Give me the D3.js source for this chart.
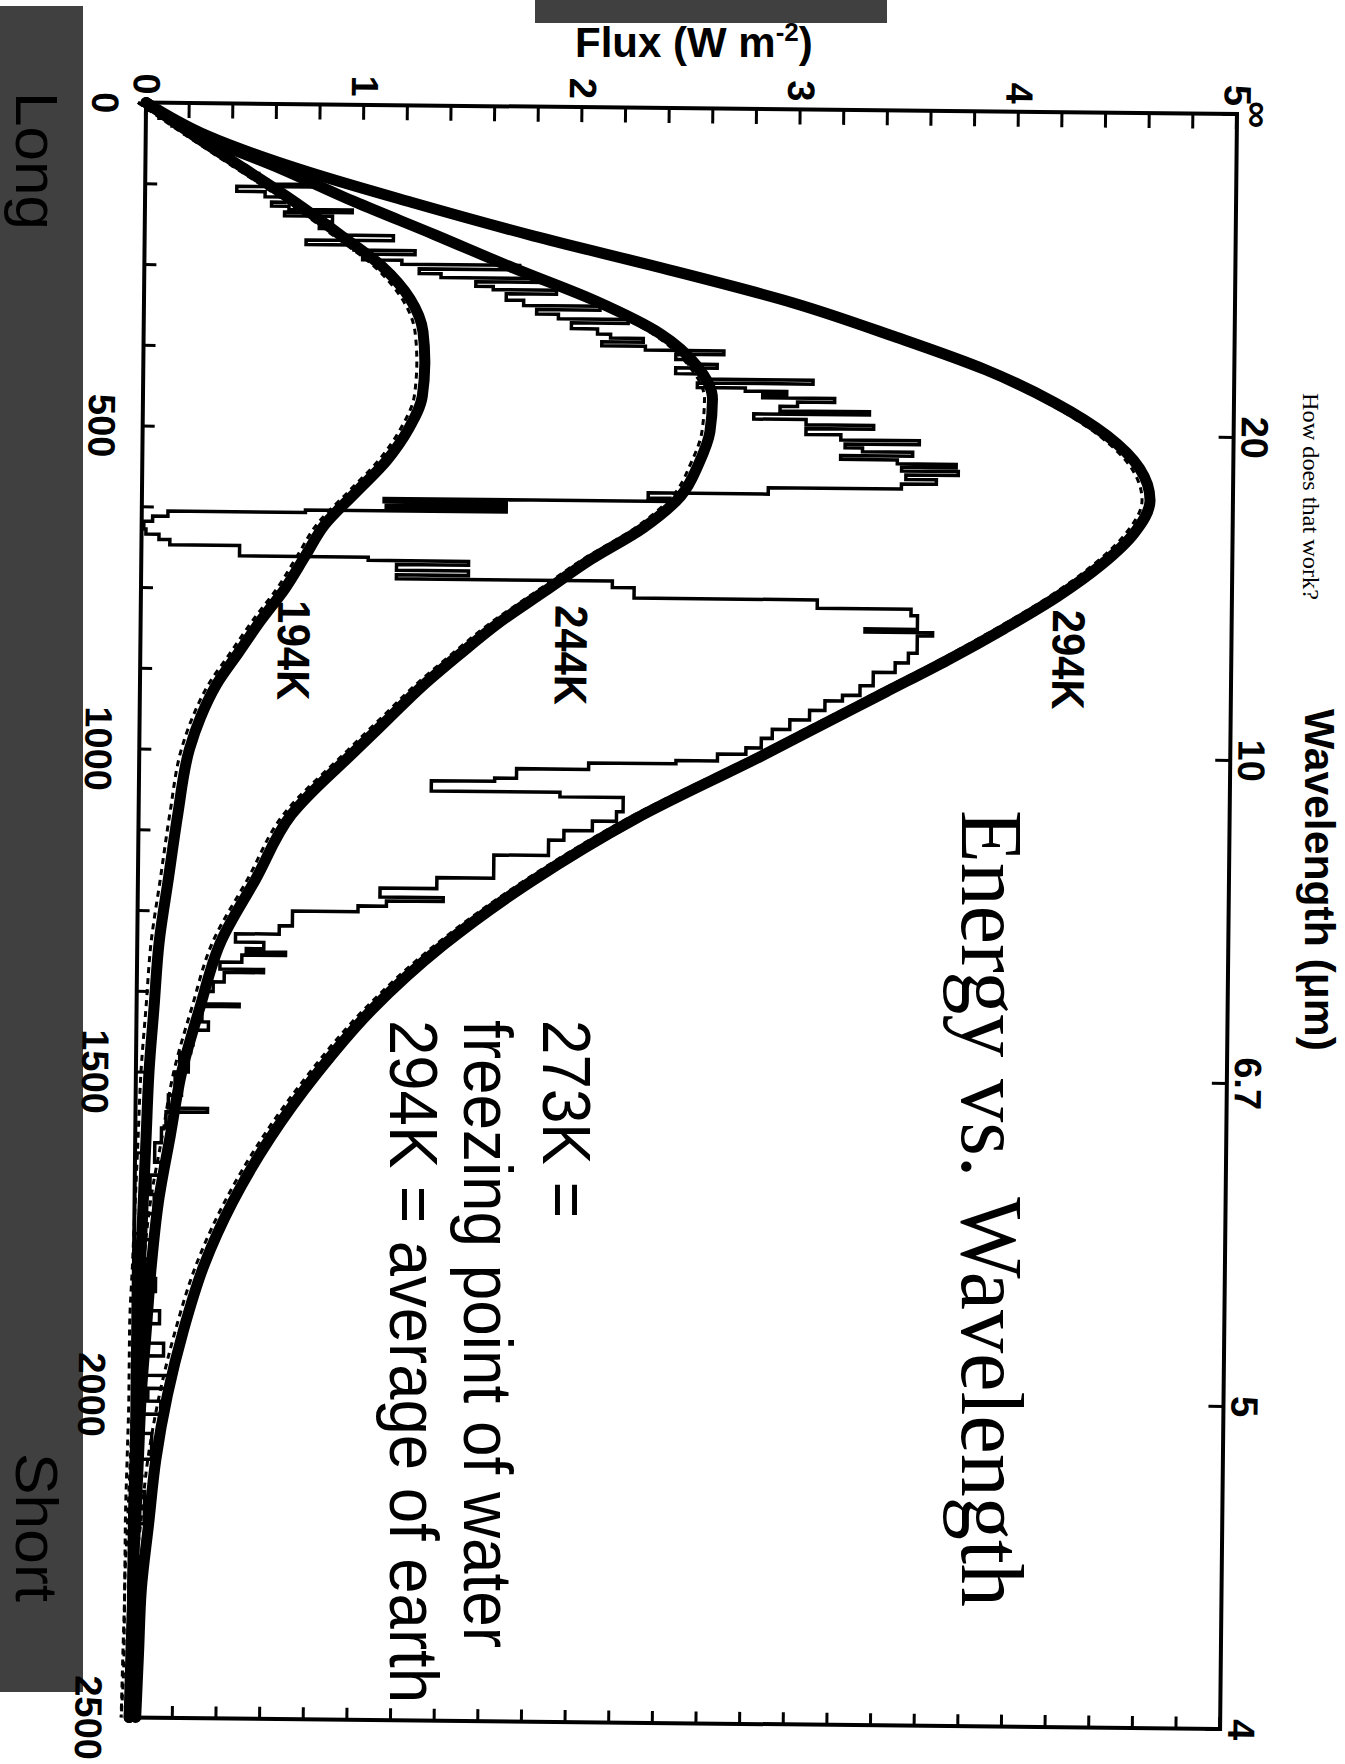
<!DOCTYPE html>
<html>
<head>
<meta charset="utf-8">
<script src="https://cdn.jsdelivr.net/npm/d3@7"></script>
<style>
  body { margin: 0; background: #fff; }
  svg { display: block; }
</style>
</head>
<body>
<svg id="chart" width="1345" height="1764"></svg>
<script>
// wavenumber grid (cm-1) for the three blackbody curves
const wavenumbers = [0, 50, 100, 150, 200, 250, 300, 350, 400, 450, 500, 550, 600, 650, 700, 750, 800, 850, 900, 950,
  1000, 1100, 1200, 1300, 1400, 1500, 1600, 1700, 1800, 1900, 2000, 2100, 2200, 2300, 2400, 2500];

const flux294 = [0, 0.28, 0.70, 1.22, 1.78, 2.40, 2.98, 3.44, 3.86, 4.18, 4.42, 4.57, 4.62, 4.55, 4.40, 4.20, 3.96, 3.70, 3.42, 3.14,
  2.86, 2.28, 1.80, 1.40, 1.08, 0.83, 0.62, 0.45, 0.32, 0.23, 0.16, 0.11, 0.08, 0.05, 0.04, 0.03];

const flux244 = [0, 0.25, 0.62, 0.96, 1.33, 1.69, 2.07, 2.37, 2.54, 2.61, 2.60, 2.55, 2.47, 2.30, 2.06, 1.85, 1.64, 1.46, 1.29, 1.14,
  0.99, 0.70, 0.54, 0.38, 0.29, 0.21, 0.16, 0.11, 0.08, 0.06, 0.04, 0.03, 0.02, 0.01, 0.01, 0.0];

const flux194 = [0, 0.22, 0.45, 0.68, 0.89, 1.09, 1.22, 1.28, 1.29, 1.28, 1.22, 1.12, 0.98, 0.84, 0.75, 0.66, 0.55, 0.45, 0.35, 0.28,
  0.23, 0.18, 0.14, 0.10, 0.08, 0.06, 0.05, 0.04, 0.03, 0.02, 0.02, 0.015, 0.01, 0.01, 0.005, 0.0];

// measured spectrum, step values (start of each bin)
const spectrumWn = [0, 12, 24, 36, 48, 60, 72, 84, 96, 108, 118, 124, 128, 136, 144, 152, 158, 163, 167, 173,
  182, 192, 202, 210, 217, 225, 231, 240, 246, 253, 260, 266, 272, 279, 284, 290, 300, 308, 314, 321,
  328, 334, 343, 351, 357, 363, 369, 375, 381, 389, 396, 402, 411, 419, 425, 432, 437, 442, 447, 453,
  460, 467, 472, 480, 488, 494, 503, 511, 517, 523, 529, 535, 541, 547, 552, 558, 564, 571, 578, 586,
  596, 604, 609, 614, 619, 624, 628, 632, 640, 648, 660, 668, 676, 684, 700, 705, 711, 720, 727, 733,
  743, 759, 772, 782, 803, 808, 813, 840, 855, 870, 891, 906, 915, 930, 945, 960, 974, 989, 999, 1010,
  1015, 1025, 1040, 1045, 1061, 1068, 1090, 1105, 1120, 1135, 1159, 1195, 1212, 1226, 1232, 1240, 1249, 1272, 1285, 1298,
  1308, 1313, 1318, 1329, 1340, 1345, 1360, 1375, 1394, 1398, 1422, 1435, 1458, 1470, 1484, 1500, 1520, 1536, 1556, 1562,
  1587, 1610, 1640, 1660, 1690, 1720, 1760, 1790, 1820, 1840, 1870, 1890, 1920, 1940, 1970, 1990, 2010, 2030, 2060, 2100,
  2150, 2200, 2300, 2400, 2480];
const spectrumFlux = [0.00, 0.06, 0.12, 0.18, 0.24, 0.30, 0.35, 0.40, 0.46, 0.52, 0.56, 0.76, 0.42, 0.55, 0.64, 0.58, 0.66, 0.95, 0.64, 0.86,
  0.80, 0.88, 1.14, 0.74, 0.96, 1.24, 1.00, 1.18, 1.72, 1.26, 1.36, 1.83, 1.52, 1.60, 1.89, 1.66, 1.74, 2.09, 1.80, 1.90,
  2.22, 1.96, 2.08, 2.14, 2.29, 2.10, 2.30, 2.66, 2.44, 2.50, 2.63, 2.44, 2.56, 3.07, 2.54, 2.76, 2.95, 2.84, 3.17, 3.00,
  2.92, 3.33, 2.80, 3.04, 3.35, 3.04, 3.20, 3.56, 3.22, 3.30, 3.53, 3.20, 3.46, 3.73, 3.48, 3.74, 3.50, 3.64, 3.48, 2.87,
  2.32, 2.42, 1.11, 1.67, 1.12, 1.67, 0.75, 0.12, 0.05, 0.01, 0.02, 0.08, 0.13, 0.45, 1.04, 1.50, 1.17, 1.50, 1.17, 2.16,
  2.26, 3.10, 3.53, 3.56, 3.32, 3.63, 3.56, 3.52, 3.46, 3.36, 3.30, 3.22, 3.14, 3.07, 2.98, 2.90, 2.85, 2.78, 2.65, 2.46,
  2.06, 1.73, 1.63, 1.34, 1.93, 2.22, 2.19, 2.08, 1.95, 1.88, 1.63, 1.37, 1.11, 1.40, 1.14, 1.01, 0.71, 0.65, 0.45, 0.58,
  0.50, 0.68, 0.48, 0.38, 0.58, 0.40, 0.35, 0.30, 0.47, 0.30, 0.33, 0.26, 0.25, 0.20, 0.24, 0.18, 0.21, 0.15, 0.33, 0.14,
  0.12, 0.09, 0.12, 0.07, 0.09, 0.05, 0.08, 0.05, 0.10, 0.06, 0.12, 0.05, 0.14, 0.06, 0.16, 0.07, 0.13, 0.05, 0.09, 0.04,
  0.06, 0.03, 0.04, 0.02, 0.00];

const fluxTicks = [0, 1, 2, 3, 4, 5];
const wnTicks = [0, 500, 1000, 1500, 2000, 2500];
const wavelengthLabels = ['\u221E', '20', '10', '6.7', '5', '4'];
const curveLabels = [
  { text: '294K', wn: 770, flux: 4.18 },
  { text: '244K', wn: 771, flux: 1.90 },
  { text: '194K', wn: 768, flux: 0.63 }
];

const svg = d3.select('#chart');

// slide overlays (grey bars)
svg.append('rect').attr('x', 535).attr('y', 0).attr('width', 352).attr('height', 23).attr('fill', '#404040');
svg.append('rect').attr('x', 0).attr('y', 6).attr('width', 83).attr('height', 1686).attr('fill', '#404040');

// the scanned chart is turned a quarter turn clockwise
const W = 1615, H = 1091;
const g = svg.append('g').attr('transform', 'translate(1237,114) rotate(90.6)');

const x = d3.scaleLinear().domain([0, 2500]).range([0, W]);
const y = d3.scaleLinear().domain([0, 5]).range([H, 0]);

const sans = "'Liberation Sans', Arial, Helvetica, sans-serif";

// flux axis (top of the picture)
const fluxAxis = d3.axisLeft(y)
  .tickValues(d3.range(0, 26).map(i => i * 0.2))
  .tickSize(-15)
  .tickPadding(8)
  .tickFormat(d => fluxTicks.some(t => Math.abs(t - d) < 1e-6) ? d3.format('d')(Math.round(d)) : '');
g.append('g').call(fluxAxis);

g.append('g').attr('transform', `translate(${W},0)`)
  .call(d3.axisRight(y).tickValues(d3.range(0, 26).map(i => i * 0.2)).tickSize(-12).tickFormat(''));

// wavenumber axis (left of the picture)
g.append('g').attr('transform', `translate(0,${H})`)
  .call(d3.axisBottom(x)
    .tickValues(d3.range(0, 21).map(i => i * 125))
    .tickSize(-12)
    .tickPadding(27)
    .tickFormat(d => wnTicks.includes(d) ? d : ''));

// wavelength axis (right of the picture)
g.append('g')
  .call(d3.axisTop(x)
    .tickValues(wnTicks)
    .tickSize(-15)
    .tickPadding(8)
    .tickFormat((d, i) => wavelengthLabels[i]));

g.selectAll('.domain').remove();
g.selectAll('.tick line').attr('stroke', '#000').attr('stroke-width', 3);
g.selectAll('.tick text')
  .attr('fill', '#000')
  .style('font-family', sans)
  .style('font-weight', 'bold')
  .style('font-size', '38px');

// frame
g.append('rect').attr('x', 0).attr('y', 0).attr('width', W).attr('height', H)
  .attr('fill', 'none').attr('stroke', '#000').attr('stroke-width', 4);

// measured spectrum
const spectrum = spectrumWn.map((w, i) => [w, spectrumFlux[i]]);
g.append('path')
  .datum(spectrum)
  .attr('fill', 'none')
  .attr('stroke', '#000')
  .attr('stroke-width', 3.5)
  .attr('stroke-linejoin', 'miter')
  .attr('d', d3.line().x(d => x(d[0])).y(d => y(d[1])).curve(d3.curveStepAfter));

// blackbody curves
const curveLine = d3.line().x(d => x(d[0])).y(d => y(d[1])).curve(d3.curveMonotoneX);
[flux294, flux244, flux194].forEach(series => {
  const pts = wavenumbers.map((w, i) => [w, series[i]]);
  g.append('path').datum(pts)
    .attr('fill', 'none').attr('stroke', '#000')
    .attr('stroke-width', 3).attr('stroke-dasharray', '6 5')
    .attr('transform', 'translate(0,8)')
    .attr('d', curveLine);
  g.append('path').datum(pts)
    .attr('fill', 'none').attr('stroke', '#000')
    .attr('stroke-width', 11).attr('stroke-linecap', 'round')
    .attr('d', curveLine);
});

// curve labels
g.selectAll('.clabel')
  .data(curveLabels)
  .enter()
  .append('text')
  .attr('x', d => x(d.wn))
  .attr('y', d => y(d.flux))
  .attr('textLength', 100)
  .attr('lengthAdjust', 'spacingAndGlyphs')
  .style('font-family', sans)
  .style('font-weight', 'bold')
  .style('font-size', '46px')
  .text(d => d.text);

// axis titles
const flux = svg.append('text')
  .attr('x', 575).attr('y', 57)
  .style('font-family', sans).style('font-weight', 'bold').style('font-size', '42px');
flux.append('tspan').text('Flux (W m');
flux.append('tspan').attr('dy', -16).style('font-size', '26px').text('-2');
flux.append('tspan').attr('dy', 16).text(')');

function rotated(text, px, py, opts) {
  svg.append('text')
    .attr('transform', `translate(${px},${py}) rotate(90)`)
    .attr('textLength', opts.len)
    .attr('lengthAdjust', 'spacingAndGlyphs')
    .attr('fill', opts.fill || '#000')
    .style('font-family', opts.family)
    .style('font-weight', opts.weight || 'normal')
    .style('font-size', opts.size + 'px')
    .text(text);
}

const serif = "'Liberation Serif', 'Times New Roman', serif";
rotated('Wavelength (\u03BCm)', 1305, 709, { family: sans, weight: 'bold', size: 42, len: 342 });
rotated('How does that work?', 1303, 393, { family: serif, size: 23, len: 207 });
rotated('Energy vs. Wavelength', 962, 810, { family: serif, size: 88, len: 797 });
rotated('273K =', 543, 1020, { family: sans, size: 68, len: 198 });
rotated('freezing point of water', 464, 1020, { family: sans, size: 68, len: 628 });
rotated('294K = average of earth', 390, 1020, { family: sans, size: 68, len: 683 });
rotated('Long', 16, 92, { family: sans, size: 60, len: 138 });
rotated('Short', 16, 1453, { family: sans, size: 60, len: 149 });
</script>
</body>
</html>
